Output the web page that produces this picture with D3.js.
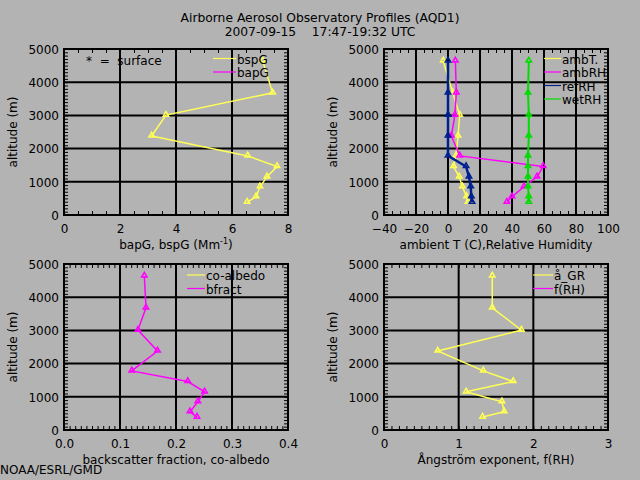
<!DOCTYPE html>
<html><head><meta charset="utf-8">
<script src="https://cdn.jsdelivr.net/npm/d3@7"></script>
<style>
body{margin:0;background:#b3b3b3;}
svg{display:block;font-family:"DejaVu Sans",sans-serif;}
text{fill:#000;}
</style></head><body>
<svg id="c" width="640" height="480"></svg>
<script>
// ---- data ----
const altitude = [4640, 3680, 3010, 2380, 1780, 1460, 1150, 850, 550, 390];
const bspG  = [7.1, 7.45, 3.64, 3.13, 6.56, 7.61, 7.25, 7.0, 6.86, 6.54];
const bapG  = [null, null, null, null, null, null, null, null, null, null];
const ambT  = [-3, 3, 7.3, 6.3, 5, 3.5, 7, 9, 11.6, 12.5];
const ambRH = [4.6, 5.2, 4.3, 2.1, 7.3, 59.5, 55.6, 47.5, 40, 36.8];
const refRH = [0, 0, 0, 0, 0, 11.3, 13.1, 14.2, 14.6, 15];
const wetRH = [50.5, 50, 50.5, 50.5, 50, 50, 50, 50, 50.5, 50.5];
const coAlbedo = [null, null, null, null, null, null, null, null, null, null];
const bfract = [0.1435, 0.1464, 0.132, 0.167, 0.121, 0.221, 0.251, 0.239, 0.225, 0.2375];
const angGR = [1.45, 1.45, 1.84, 0.72, 1.33, 1.73, 1.10, 1.58, 1.61, 1.32];
const fRH   = [null, null, null, null, null, null, null, null, null, null];

const altTicks = [0, 1000, 2000, 3000, 4000, 5000];
const titleLines = ["Airborne Aerosol Observatory Profiles (AQD1)", "2007-09-15    17:47-19:32 UTC"];

const C = {yellow:"#ffff55", magenta:"#ff00ff", navy:"#00208f", green:"#00dd00"};

const svg = d3.select('#c');
svg.append('rect').attr('width',640).attr('height',480).attr('fill','#b3b3b3');

// Title
titleLines.forEach((t,i)=>{
  svg.append('text').attr('x',320).attr('y',[21.5,35.5][i]).attr('text-anchor','middle')
    .attr('xml:space','preserve').style('white-space','pre')
    .attr('font-size',12.3).text(t);
});
svg.append('text').attr('x',0).attr('y',474).attr('font-size',12).text('NOAA/ESRL/GMD');

function panel(cfg){
  const [x0,x1] = cfg.xr, [y0,y1] = cfg.yr;
  const x = d3.scaleLinear().domain(cfg.xdom).range([x0,x1]);
  const y = d3.scaleLinear().domain([0,5000]).range([y1,y0]);
  const g = svg.append('g');
  // minor ticks on all 4 sides
  const xMinor = d3.range(cfg.xdom[0], cfg.xdom[1]+cfg.xminor/2, cfg.xminor);
  const yMinor = d3.range(0, 5001, 100);
  const tk = 4;
  const mk = (axis, tr) => { const a = g.append('g').attr('transform',tr).call(axis);
      a.select('.domain').remove(); a.selectAll('line').attr('stroke','#000').attr('stroke-width',1); return a; };
  mk(d3.axisBottom(x).tickValues(xMinor).tickSize(-tk).tickFormat(''), `translate(0,${y1})`);
  mk(d3.axisTop(x).tickValues(xMinor).tickSize(-tk).tickFormat(''), `translate(0,${y0})`);
  mk(d3.axisLeft(y).tickValues(yMinor).tickSize(-tk).tickFormat(''), `translate(${x0},0)`);
  mk(d3.axisRight(y).tickValues(yMinor).tickSize(-tk).tickFormat(''), `translate(${x1},0)`);
  // grid
  g.append('g').selectAll('line').data(cfg.xticks.slice(1,-1)).join('line')
    .attr('x1',d=>x(d)).attr('x2',d=>x(d)).attr('y1',y0).attr('y2',y1)
    .attr('stroke','#000').attr('stroke-width',2);
  g.append('g').selectAll('line').data(altTicks.slice(1,-1)).join('line')
    .attr('y1',d=>y(d)).attr('y2',d=>y(d)).attr('x1',x0).attr('x2',x1)
    .attr('stroke','#000').attr('stroke-width',2);
  // frame
  g.append('rect').attr('x',x0).attr('y',y0).attr('width',x1-x0).attr('height',y1-y0)
    .attr('fill','none').attr('stroke','#000').attr('stroke-width',2);
  // tick labels
  const xl = g.append('g').attr('transform',`translate(0,${y1})`)
    .call(d3.axisBottom(x).tickValues(cfg.xticks).tickSize(0).tickFormat(cfg.xfmt));
  xl.select('.domain').remove();
  xl.selectAll('text').attr('y',18).attr('dy',null).attr('font-size',12).attr('font-family','DejaVu Sans').attr('fill','#000');
  const yl = g.append('g').attr('transform',`translate(${x0},0)`)
    .call(d3.axisLeft(y).tickValues(altTicks).tickSize(0).tickFormat(d3.format('d')));
  yl.select('.domain').remove();
  yl.selectAll('text').attr('x',-5).attr('dy','0.36em').attr('font-size',12).attr('font-family','DejaVu Sans').attr('fill','#000');
  // axis titles
  const xt = g.append('text').attr('x',(x0+x1)/2).attr('y',y1+34).attr('text-anchor','middle').attr('font-size',12);
  cfg.xtitle(xt);
  g.append('text').attr('transform',`translate(${x0-47},${(y0+y1)/2}) rotate(-90)`)
    .attr('text-anchor','middle').attr('font-size',12).text('altitude (m)');
  // series
  cfg.series.forEach(s=>{
    const pts = altitude.map((a,i)=>({a, v:s.values[i]}));
    const line = d3.line().defined(d=>d.v!=null).x(d=>x(d.v)).y(d=>y(d.a));
    g.append('path').datum(pts).attr('d',line).attr('fill','none')
      .attr('stroke',s.color).attr('stroke-width',s.w||1.5);
    g.append('g').selectAll('path').data(pts.filter(d=>d.v!=null)).join('path')
      .attr('transform',d=>`translate(${x(d.v)},${y(d.a)-0.5})`)
      .attr('d',d3.symbol(d3.symbolTriangle,13)).attr('fill','none')
      .attr('stroke',s.color).attr('stroke-width',1.5);
  });
  // legend
  cfg.series.forEach((s,i)=>{
    const ly = cfg.leg[1] + i*cfg.leg[3];
    g.append('line').attr('x1',cfg.leg[0]).attr('x2',cfg.leg[0]+cfg.leg[2]).attr('y1',ly).attr('y2',ly)
      .attr('stroke',s.color).attr('stroke-width',1.2);
    g.append('text').attr('x',cfg.leg[0]+cfg.leg[2]+1).attr('y',ly+5).attr('font-size',12).text(s.name);
  });
}

panel({xr:[64,288], yr:[49,215], xdom:[0,8], xticks:[0,2,4,6,8], xminor:0.5, xfmt:d3.format('d'),
  xtitle: t=>{ t.append('tspan').text('bapG, bspG (Mm'); t.append('tspan').attr('dy',-5).attr('font-size',8).text('-1');
               t.append('tspan').attr('dy',5).text(')'); },
  leg:[213,58.5,23,13.5],
  series:[{name:'bspG',values:bspG,color:C.yellow},{name:'bapG',values:bapG,color:C.magenta}]});
svg.append('text').attr('x',86).attr('y',65).attr('font-size',12).attr('xml:space','preserve').style('white-space','pre').text('*  =  surface');

panel({xr:[384,608], yr:[49,215], xdom:[-40,100], xticks:[-40,-20,0,20,40,60,80,100], xminor:5, xfmt:d3.format('d'),
  xtitle: t=>t.text('ambient T (C),Relative Humidity'),
  leg:[544,58.5,17,13.5],
  series:[{name:'ambT.',values:ambT,color:C.yellow},{name:'ambRH',values:ambRH,color:C.magenta},
          {name:'refRH',values:refRH,color:C.navy,w:2.5},{name:'wetRH',values:wetRH,color:C.green,w:2}]});

panel({xr:[64,288], yr:[264,430], xdom:[0,0.4], xticks:[0,0.1,0.2,0.3,0.4], xminor:0.01, xfmt:d3.format('.1f'),
  xtitle: t=>t.text('backscatter fraction, co-albedo'),
  leg:[187,275,18,13.5],
  series:[{name:'co-albedo',values:coAlbedo,color:C.yellow},{name:'bfract',values:bfract,color:C.magenta}]});

panel({xr:[384,608], yr:[264,430], xdom:[0,3], xticks:[0,1,2,3], xminor:0.1, xfmt:d3.format('d'),
  xtitle: t=>t.text('Ångström exponent, f(RH)'),
  leg:[533,275,20,13.5],
  series:[{name:'å_GR',values:angGR,color:C.yellow},{name:'f(RH)',values:fRH,color:C.magenta}]});
</script>
</body></html>
